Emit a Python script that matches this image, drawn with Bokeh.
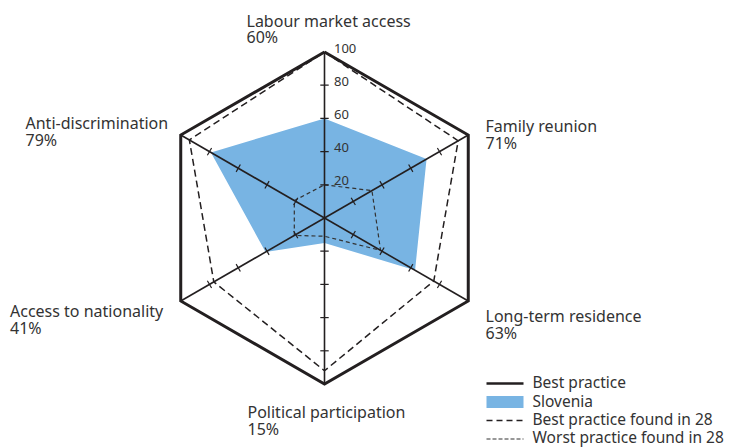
import numpy as np
from bokeh.plotting import figure
from bokeh.models import Range1d
from bokeh.core.properties import value
from bokeh.embed import file_html
from bokeh.resources import INLINE

# ---- data ----
categories = ["Labour market access", "Family reunion", "Long-term residence",
              "Political participation", "Access to nationality", "Anti-discrimination"]
slovenia = [60, 71, 63, 15, 41, 79]
best_practice = [100, 100, 100, 100, 100, 100]
best_found_28 = [100, 93, 76, 92, 77, 94]
worst_found_28 = [20, 33, 39, 11, 21, 21]
scale_ticks = [20, 40, 60, 80, 100]
legend_labels = ["Best practice", "Slovenia", "Best practice found in 28", "Worst practice found in 28"]

# ---- layout ----
W, H = 731, 447
OFF = 0
S = 1.66             # px per unit
CX, CY = 324, 217.5  # page coords of the radar centre
FONT = value("Noto Sans")
TXT = "#333333"
INK = "#231f20"
BLUE = "#78b4e3"

def ux(px):
    return (px - CX) / S

def uy(py):
    return (CY - py) / S

p = figure(width=W, height=H, output_backend="svg", toolbar_location=None,
           x_range=Range1d(ux(OFF), ux(OFF + W)), y_range=Range1d(uy(OFF + H), uy(OFF)),
           min_border=0, outline_line_color=None, background_fill_color="white")
p.axis.visible = False
p.grid.visible = False

n = len(categories)
ang = np.pi / 2 - np.arange(n) * 2 * np.pi / n
cosa, sina = np.cos(ang), np.sin(ang)

def poly(vals):
    v = np.asarray(vals, dtype=float)
    return list(v * cosa), list(v * sina)

def closed(vals):
    xs, ys = poly(vals)
    return xs + xs[:1], ys + ys[:1]

# Slovenia area
sx, sy = poly(slovenia)
p.patch(sx, sy, fill_color=BLUE, line_color=None)

# worst practice found in 28
wx, wy = closed(worst_found_28)
p.line(wx, wy, line_color="#333333", line_width=1.2, line_dash="4 3")

# best practice found in 28
bx, by = closed(best_found_28)
p.line(bx, by, line_color=INK, line_width=1.5, line_dash="7 4")

# spokes
ox, oy = poly(best_practice)
p.segment(x0=[0] * n, y0=[0] * n, x1=ox, y1=oy, line_color=INK, line_width=1.6)

# spoke ticks
half = 4.2 / S
tx0, ty0, tx1, ty1 = [], [], [], []
for i in range(n):
    for t in scale_ticks[:-1]:
        cx, cy = t * cosa[i], t * sina[i]
        px_, py_ = -sina[i], cosa[i]
        tx0.append(cx - half * px_); ty0.append(cy - half * py_)
        tx1.append(cx + half * px_); ty1.append(cy + half * py_)
p.segment(x0=tx0, y0=ty0, x1=tx1, y1=ty1, line_color=INK, line_width=1.2)

# outer hexagon (best practice)
hx, hy = closed(best_practice)
p.line(hx, hy, line_color=INK, line_width=3, line_join="miter")

# scale numbers on the vertical spoke
p.text(x=[9.5 / S] * len(scale_ticks), y=scale_ticks, text=[str(t) for t in scale_ticks],
       text_font=FONT, text_font_size="13px", text_color=TXT,
       text_baseline="middle", text_align="left", y_offset=-4)

# category labels
label_pos = [(246, 20), (485, 125.5), (485, 315.5), (247, 411.5), (9.5, 310.5), (25, 122.2)]
line_gap = 16.8
lx = [ux(a) for a, b in label_pos]
ly1 = [uy(b) for a, b in label_pos]
ly2 = [uy(b + line_gap) for a, b in label_pos]
p.text(x=lx, y=ly1, text=categories, text_font=FONT, text_font_size="16px",
       text_color=TXT, text_baseline="alphabetic", text_align="left")
p.text(x=lx, y=ly2, text=[f"{v}%" for v in slovenia], text_font=FONT, text_font_size="16px",
       text_color=TXT, text_baseline="alphabetic", text_align="left")

# legend
lg_x0, lg_x1, lg_tx = 486, 523, 532
lg_base = [381.5, 400, 418.5, 436.5]
p.segment(x0=[ux(lg_x0)], y0=[uy(lg_base[0] + 1.5)], x1=[ux(lg_x1)], y1=[uy(lg_base[0] + 1.5)],
          line_color=INK, line_width=2.5)
p.quad(left=[ux(lg_x0)], right=[ux(lg_x1)], bottom=[uy(lg_base[1] + 7.5)], top=[uy(lg_base[1] - 4.5)],
       fill_color=BLUE, line_color=None)
p.segment(x0=[ux(lg_x0)], y0=[uy(lg_base[2] + 1.5)], x1=[ux(lg_x1)], y1=[uy(lg_base[2] + 1.5)],
          line_color=INK, line_width=1.5, line_dash="6 4")
p.segment(x0=[ux(lg_x0)], y0=[uy(lg_base[3] + 2)], x1=[ux(lg_x1)], y1=[uy(lg_base[3] + 2)],
          line_color="#333333", line_width=1.1, line_dash="4 2")
p.text(x=[ux(lg_tx)] * 4, y=[uy(b) for b in lg_base], text=legend_labels, text_font=FONT,
       text_font_size="15.5px", text_color=TXT, text_baseline="alphabetic", text_align="left")

open("out.html", "w").write(file_html(p, INLINE))
